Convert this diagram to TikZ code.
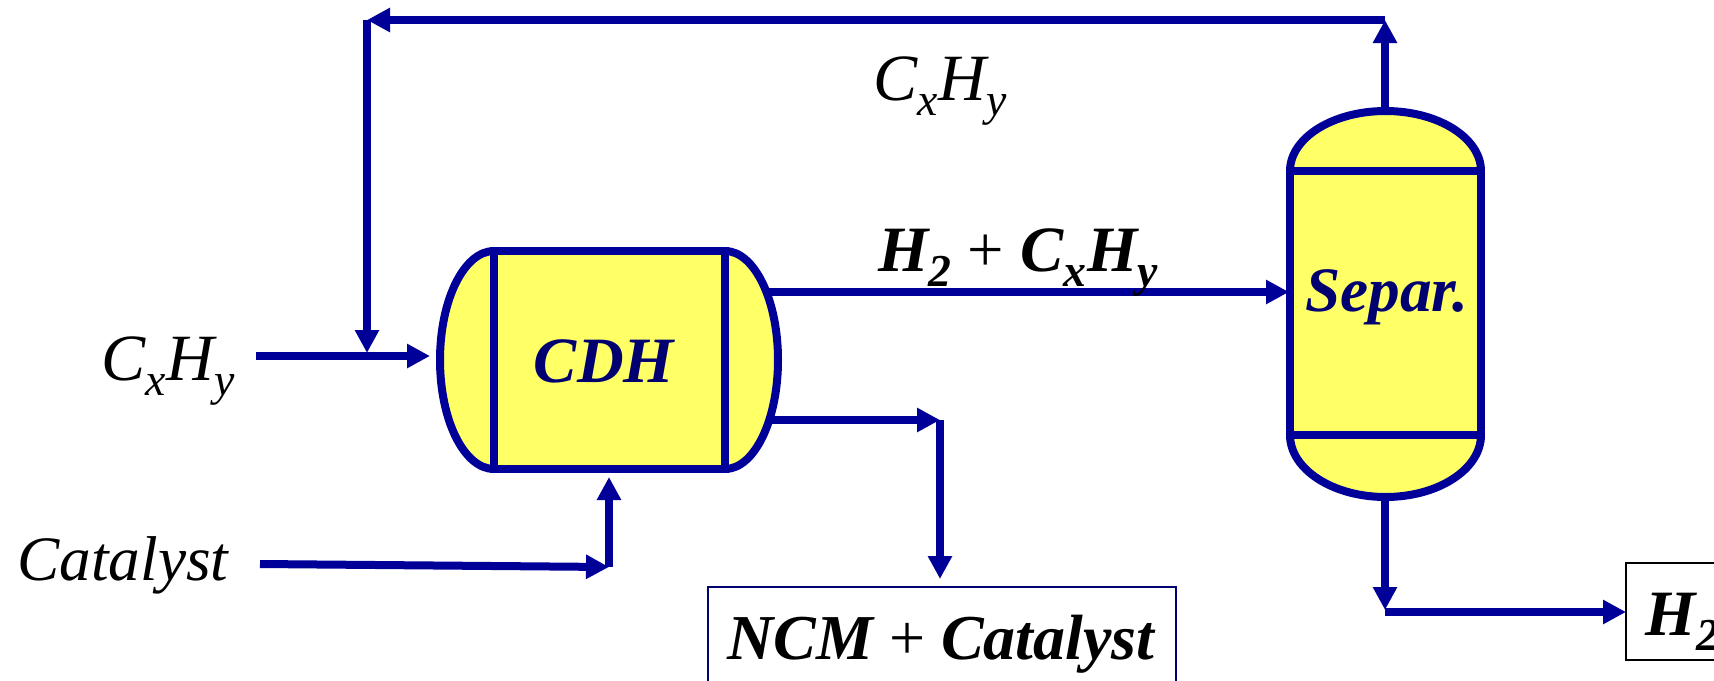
\documentclass[tikz,border=0pt]{standalone}
\usepackage{fontspec}
\setmainfont{Liberation Serif}
\usetikzlibrary{arrows.meta}

\definecolor{flowblue}{HTML}{000099}
\definecolor{vesselyellow}{HTML}{FFFF66}
\definecolor{labelnavy}{HTML}{000070}

\newcommand{\lowidx}[1]{\raisebox{-.24em}{\fontsize{13}{13}\selectfont #1}}
\newcommand{\cxhy}{C\lowidx{x}\kern.02em H\lowidx{y}}

\tikzset{
    flow/.style = {draw = flowblue, line width = 0.8mm, -{Triangle[length = 2.3mm, width = 2.3mm]}},
    vessel/.style = {draw = flowblue, fill = vesselyellow, line width = 0.8mm, outer sep = 0pt, inner sep = 0pt},
    dome/.style = {draw = flowblue, fill = vesselyellow, line width = 0.8mm},
    feedlabel/.style = {anchor = base, inner sep = 0pt, font = \fontsize{18.8}{18.8}\selectfont\itshape},
    boldlabel/.style = {anchor = base, inner sep = 0pt, font = \fontsize{18.4}{18.4}\selectfont\bfseries\itshape},
    productbox/.style = {draw, line width = 0.22mm, outer sep = 0pt, inner sep = 0pt}
}

\begin{document}
\begin{tikzpicture}
    \useasboundingbox (0,0) rectangle (17.14,6.8);
    \clip (0,0) rectangle (17.14,6.8);

    % reactor
    \draw [dome] (4.94,4.29) arc [start angle = 90, end angle = 270, x radius = 0.54, y radius = 1.09];
    \draw [dome] (7.25,4.29) arc [start angle = 90, end angle = -90, x radius = 0.53, y radius = 1.09];
    \node (cdhbox) [vessel, minimum width = 2.31cm, minimum height = 2.18cm] at (6.095,3.20) {};
    \node (cdhtext) [boldlabel, text = labelnavy] at (6.04,2.98) {CDH};

    % separator
    \draw [dome] (12.90,5.09) arc [start angle = 180, end angle = 0, x radius = 0.955, y radius = 0.60];
    \draw [dome] (12.90,2.45) arc [start angle = 180, end angle = 360, x radius = 0.955, y radius = 0.62];
    \node (separbox) [vessel, minimum width = 1.91cm, minimum height = 2.64cm] at (13.855,3.77) {};
    \node (separtext) [boldlabel, text = labelnavy, font = \fontsize{18}{18}\selectfont\bfseries\itshape] at (13.87,3.69) {Separ.};

    % products
    \node (ncmbox) [productbox, draw = labelnavy, minimum width = 4.68cm, minimum height = 1.2cm, anchor = north] at (9.42,0.93) {};
    \node (ncmtext) [boldlabel, font = \fontsize{18.2}{18.2}\selectfont\bfseries\itshape] at (9.41,0.21) {NCM {\normalfont +} Catalyst};
    \node (hbox) [productbox, minimum width = 1.4cm, minimum height = 0.97cm, anchor = north west] at (16.26,1.17) {};
    \node (htext) [boldlabel, anchor = base west] at (16.45,0.45) {H\lowidx{2}};

    % stream points
    \coordinate (feedstart) at (2.56,3.24);
    \coordinate (feedend) at (4.30,3.24);
    \coordinate (sepout) at (13.85,5.65);
    \coordinate (rectop) at (13.85,6.60);
    \coordinate (reccorner) at (3.67,6.60);
    \coordinate (recend) at (3.67,3.27);
    \coordinate (mixstart) at (7.68,3.88);
    \coordinate (mixend) at (12.89,3.88);
    \coordinate (solidstart) at (7.72,2.60);
    \coordinate (solidcorner) at (9.40,2.60);
    \coordinate (solidend) at (9.40,1.01);
    \coordinate (catstart) at (2.60,1.16);
    \coordinate (catcorner) at (6.09,1.13);
    \coordinate (catend) at (6.09,2.03);
    \coordinate (sepbottom) at (13.85,1.83);
    \coordinate (hcorner) at (13.85,0.70);
    \coordinate (hstart) at (13.85,0.68);
    \coordinate (hend) at (16.26,0.68);

    % streams
    \draw [flow] (feedstart) -- (feedend);
    \draw [flow] (sepout) -- (rectop);
    \draw [flow] (rectop) -- (reccorner);
    \draw [flow] (reccorner) -- (recend);
    \draw [flow] (mixstart) -- (mixend);
    \draw [flow] (solidstart) -- (solidcorner);
    \draw [flow] (solidcorner) -- (solidend);
    \draw [flow] (catstart) -- (catcorner);
    \draw [flow] (catcorner) -- (catend);
    \draw [flow] (sepbottom) -- (hcorner);
    \draw [flow] (hstart) -- (hend);

    % stream labels
    \node (feedtext) [feedlabel] at (1.68,3.00) {\cxhy};
    \node (cattext) [feedlabel, font = \fontsize{18}{18}\selectfont\itshape] at (1.23,1.00) {Catalyst};
    \node (recycletext) [feedlabel] at (9.40,5.80) {\cxhy};
    \node (mixtext) [boldlabel] at (10.18,4.09) {H\lowidx{2} {\normalfont +} \cxhy};
\end{tikzpicture}
\end{document}
